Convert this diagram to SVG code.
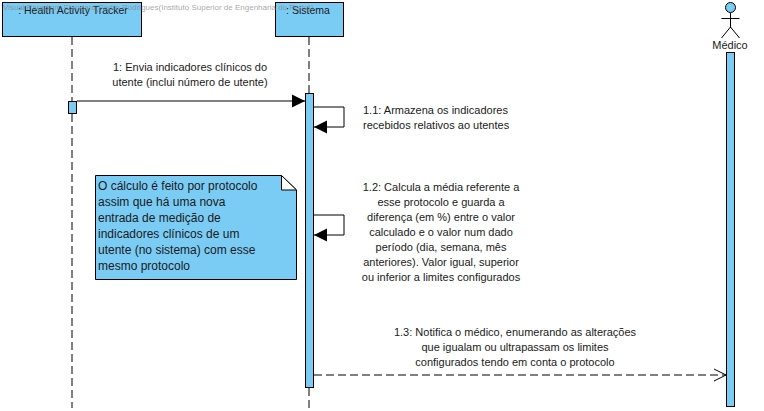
<svg xmlns="http://www.w3.org/2000/svg" width="764" height="411" viewBox="0 0 764 411">
<style>
.box{fill:#7accf5;stroke:#000;stroke-width:1}
.line{fill:none;stroke:#000;stroke-width:1}
.life{fill:none;stroke:#000;stroke-width:1;stroke-dasharray:8 4}
text{font-family:"Liberation Sans",Arial,sans-serif;font-size:11px;fill:#1a1a1a}
.m{text-anchor:middle}
.big{font-size:12px}
.title{font-size:10.5px}
.wm{font-size:8px;fill:#808080;fill-opacity:.7}
</style>
<defs>
<marker id="solid" markerUnits="userSpaceOnUse" markerWidth="14" markerHeight="14" refX="13" refY="7" orient="auto"><path d="M0 0.5L13 7L0 13.500Z" fill="#000"/></marker>
<marker id="open" markerUnits="userSpaceOnUse" markerWidth="14" markerHeight="14" refX="13" refY="7" orient="auto"><path d="M1 1L13 7L1 13" fill="none" stroke="#000"/></marker>
</defs>
<rect width="764" height="411" fill="#fff"/>
<g id="connectors">
<path class="line" d="M77 101H305" marker-end="url(#solid)"/>
<path class="line" d="M314 107H344V127H314" marker-end="url(#solid)"/>
<path class="line" d="M314 215H344V235H314" marker-end="url(#solid)"/>
<path class="line" d="M314 375H726" stroke-dasharray="8 4" marker-end="url(#open)"/>
</g>
<g id="health-activity-tracker">
<path class="life" d="M72 37V102M72 114V408"/>
<rect class="box" x="2.500" y="2.500" width="139" height="34"/>
<text class="title m" x="73" y="14">: Health Activity Tracker</text>
<rect class="box" x="68.500" y="101.500" width="8" height="12"/>
</g>
<g id="sistema">
<path class="life" d="M309 37V93M309 388V408"/>
<rect class="box" x="275.500" y="2.500" width="68" height="34"/>
<text class="title m" x="308" y="14">: Sistema</text>
<rect class="box" x="305.500" y="93.500" width="8" height="294"/>
</g>
<g id="medico">
<circle class="box" cx="730.500" cy="7.500" r="5"/>
<path class="line" d="M730.500 13V28M721.500 18.500H739.500M730.500 27L721.500 38M730.500 27L739.500 38"/>
<text class="m" x="730" y="49">Médico</text>
<rect class="box" x="726.500" y="52.500" width="8" height="354"/>
</g>
<g id="nota">
<path class="box" d="M95.500 175.500H281.500L296.500 190V279.500H95.500Z"/>
<path d="M281.500 175.500L296.500 190H281.500Z" fill="#fff" stroke="#000"/>
<text class="big" x="98" y="190">O cálculo é feito por protocolo</text>
<text class="big" x="98" y="206">assim que há uma nova</text>
<text class="big" x="98" y="222">entrada de medição de</text>
<text class="big" x="98" y="238">indicadores clínicos de um</text>
<text class="big" x="98" y="254">utente (no sistema) com esse</text>
<text class="big" x="98" y="270">mesmo protocolo</text>
</g>
<g id="labels">
<text class="m" x="190" y="71">1: Envia indicadores clínicos do</text>
<text class="m" x="190" y="86">utente (inclui número de utente)</text>
<text x="363" y="114">1.1: Armazena os indicadores</text>
<text x="363" y="129">recebidos relativos ao utentes</text>
<text class="m" x="441" y="191">1.2: Calcula a média referente a</text>
<text class="m" x="441" y="206">esse protocolo e guarda a</text>
<text class="m" x="441" y="221">diferença (em %) entre o valor</text>
<text class="m" x="441" y="236">calculado e o valor num dado</text>
<text class="m" x="441" y="251">período (dia, semana, mês</text>
<text class="m" x="441" y="266">anteriores). Valor igual, superior</text>
<text class="m" x="441" y="281">ou inferior a limites configurados</text>
<text class="m" x="515" y="336">1.3: Notifica o médico, enumerando as alterações</text>
<text class="m" x="515" y="351">que igualam ou ultrapassam os limites</text>
<text class="m" x="515" y="366">configurados tendo em conta o protocolo</text>
</g>
<g id="watermark"><text class="wm" x="3" y="10">Visual Paradigm Standard(Pedro Rodrigues(Instituto Superior de Engenharia do Porto))</text></g>
</svg>
